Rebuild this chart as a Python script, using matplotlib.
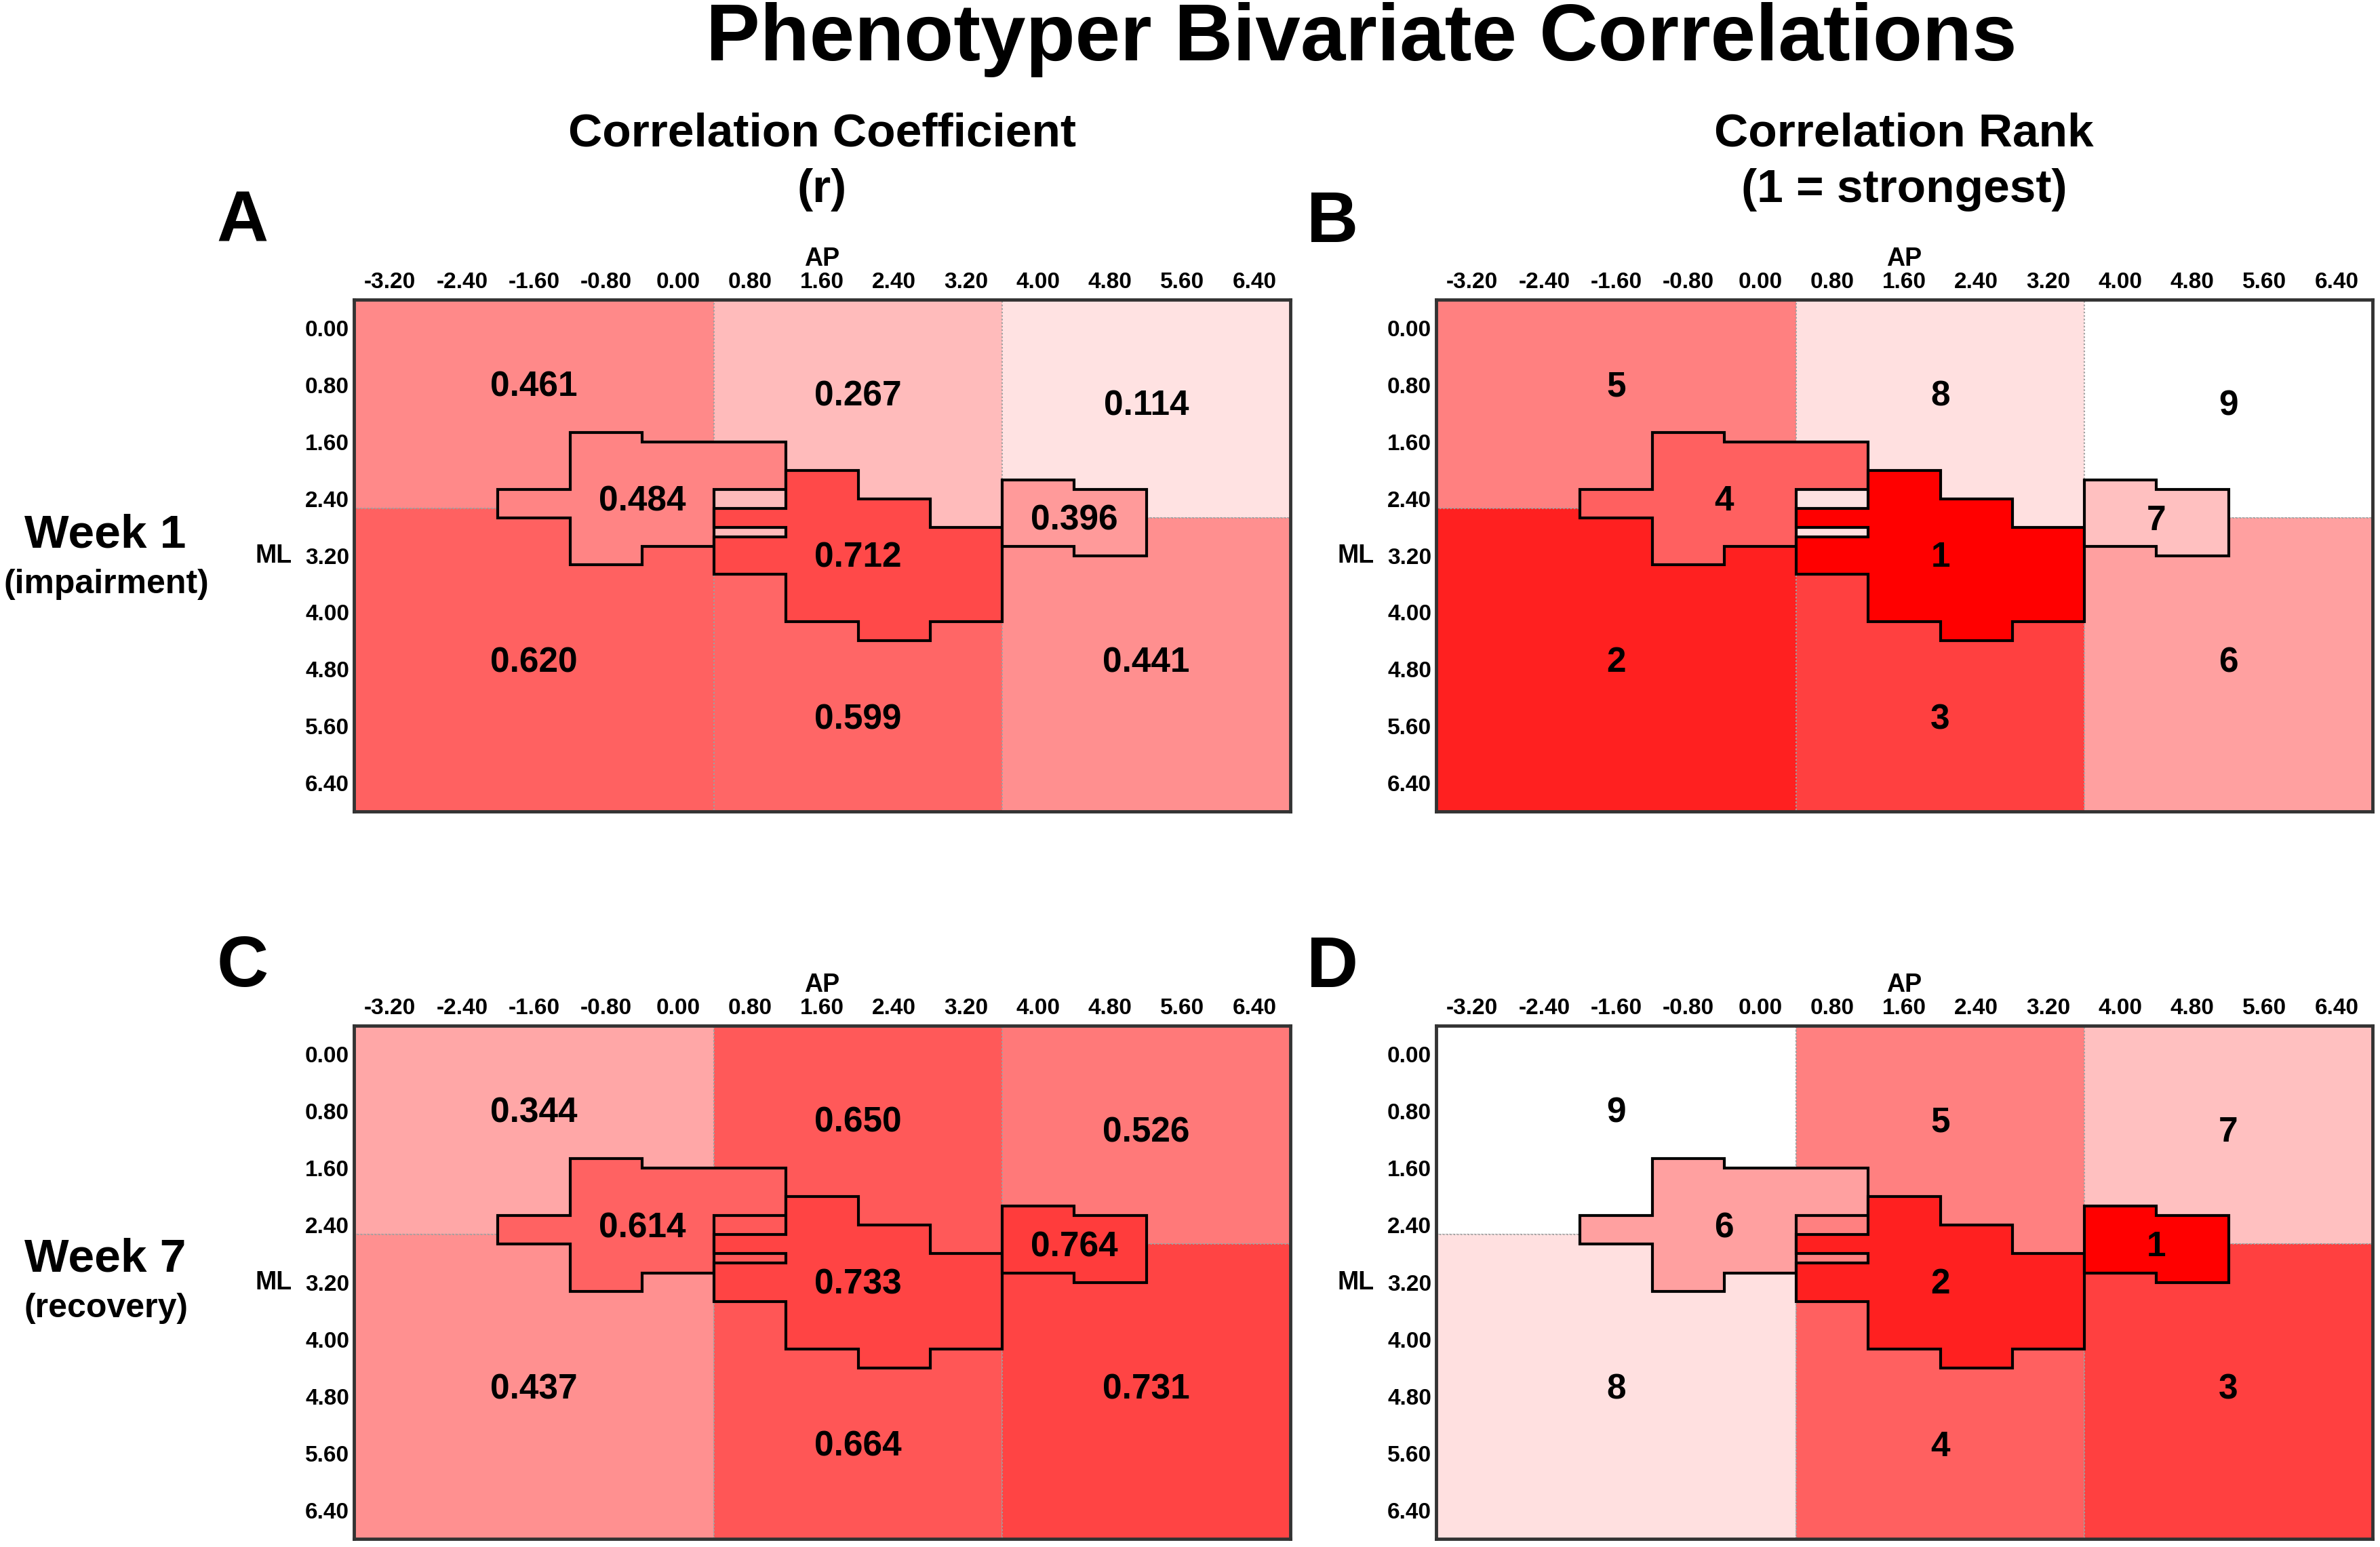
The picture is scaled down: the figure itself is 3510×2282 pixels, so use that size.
import numpy as np
import matplotlib.pyplot as plt
import matplotlib.transforms as mtransforms
from matplotlib.patches import Polygon
from matplotlib.colors import LinearSegmentedColormap, Normalize

# tick positions (mm)
ap_ticks = [-3.2, -2.4, -1.6, -0.8, 0.0, 0.8, 1.6, 2.4, 3.2, 4.0, 4.8, 5.6, 6.4]
ml_ticks = [0.0, 0.8, 1.6, 2.4, 3.2, 4.0, 4.8, 5.6, 6.4]

# regions as (AP, ML) outlines: 6 background blocks, then the 3 lesion shapes
top_left = [(-3.6, -0.4), (0.4, -0.4), (0.4, 2.533), (-3.6, 2.533)]
top_mid = [(0.4, -0.4), (3.6, -0.4), (3.6, 3.2), (0.4, 3.2)]
top_right = [(3.6, -0.4), (6.8, -0.4), (6.8, 2.667), (3.6, 2.667)]
bot_left = [(-3.6, 2.533), (0.4, 2.533), (0.4, 6.8), (-3.6, 6.8)]
bot_mid = [(0.4, 3.2), (3.6, 3.2), (3.6, 6.8), (0.4, 6.8)]
bot_right = [(3.6, 2.667), (6.8, 2.667), (6.8, 6.8), (3.6, 6.8)]
shape_left = [(-1.2, 1.467), (-0.4, 1.467), (-0.4, 1.6), (1.2, 1.6), (1.2, 2.267),
              (0.4, 2.267), (0.4, 3.067), (-0.4, 3.067), (-0.4, 3.333), (-1.2, 3.333),
              (-1.2, 2.667), (-2.0, 2.667), (-2.0, 2.267), (-1.2, 2.267)]
shape_mid = [(1.2, 2.0), (2.0, 2.0), (2.0, 2.4), (2.8, 2.4), (2.8, 2.8), (3.6, 2.8),
             (3.6, 4.133), (2.8, 4.133), (2.8, 4.4), (2.0, 4.4), (2.0, 4.133),
             (1.2, 4.133), (1.2, 3.467), (0.4, 3.467), (0.4, 2.933), (1.2, 2.933),
             (1.2, 2.8), (0.4, 2.8), (0.4, 2.533), (1.2, 2.533)]
shape_right = [(3.6, 2.133), (4.4, 2.133), (4.4, 2.267), (5.2, 2.267), (5.2, 3.2),
               (4.4, 3.2), (4.4, 3.067), (3.6, 3.067)]
regions = [top_left, top_mid, top_right, bot_left, bot_mid, bot_right,
           shape_left, shape_mid, shape_right]

week1_r = [0.461, 0.267, 0.114, 0.620, 0.599, 0.441, 0.484, 0.712, 0.396]
week1_rank = [5, 8, 9, 2, 3, 6, 4, 1, 7]
week7_r = [0.344, 0.650, 0.526, 0.437, 0.664, 0.731, 0.614, 0.733, 0.764]
week7_rank = [9, 5, 7, 8, 4, 3, 6, 2, 1]

label_xy = [(-1.6, 0.83), (2.0, 0.96), (5.2, 1.1), (-1.6, 4.71), (2.0, 5.51),
            (5.2, 4.71), (-0.4, 2.44), (2.0, 3.23), (4.4, 2.71)]

W, H = 3510, 2282
arial = ['Liberation Sans', 'DejaVu Sans']

cmap = LinearSegmentedColormap.from_list('wr', ['white', 'red'])
r_norm = Normalize(0, 1)
rank_norm = Normalize(1, 9)

fig = plt.figure(figsize=(W / 100, H / 100), dpi=100)


def px_axes(x0, y0, x1, y1):
    return fig.add_axes([x0 / W, 1 - y1 / H, (x1 - x0) / W, (y1 - y0) / H])


def ftext(x, y, s, **kw):
    fig.text(x / W, 1 - y / H, s, ha='center', va='center', fontweight='bold', **kw)


def draw_panel(ax, values, cm, norm, fmt):
    for i, (verts, v) in enumerate(zip(regions, values)):
        bg = i < 6
        ax.add_patch(Polygon(verts, closed=True, facecolor=cm(norm(v)),
                             edgecolor='#a0a0a0' if bg else 'black',
                             lw=1.5 if bg else 3, ls=(0, (1, 1.5)) if bg else '-',
                             joinstyle='miter', zorder=1 if bg else 2))
        ax.text(label_xy[i][0], label_xy[i][1], fmt(v), ha='center', va='center',
                fontsize=37, fontweight='bold', family=arial, zorder=3)
    ax.set_xlim(-3.6, 6.8)
    ax.set_ylim(6.8, -0.4)
    ax.xaxis.tick_top()
    ax.xaxis.set_label_position('top')
    ax.set_xticks(ap_ticks, labels=['%.2f' % t for t in ap_ticks])
    ax.set_yticks(ml_ticks, labels=['%.2f' % t for t in ml_ticks])
    ax.tick_params(length=0, labelsize=24)
    ax.tick_params(axis='x', pad=7)
    ax.tick_params(axis='y', pad=5)
    for lab in ax.get_xticklabels() + ax.get_yticklabels():
        lab.set_fontweight('bold')
        lab.set_family(arial)
    ax.set_xlabel('AP', fontsize=27, fontweight='bold', family=arial, labelpad=7)
    trans = mtransforms.blended_transform_factory(ax.transAxes, ax.transData)
    ax.text(-0.086, 3.2, 'ML', transform=trans, ha='center', va='center',
            fontsize=27, fontweight='bold', family=arial)
    for sp in ax.spines.values():
        sp.set_linewidth(3.5)
        sp.set_color('#333333')
        sp.set_zorder(4)


axA = px_axes(522, 442, 1903, 1197)
axB = px_axes(2118, 442, 3499, 1197)
axC = px_axes(522, 1513, 1903, 2270)
axD = px_axes(2118, 1513, 3499, 2270)

draw_panel(axA, week1_r, cmap, r_norm, lambda v: '%.3f' % v)
draw_panel(axB, week1_rank, cmap.reversed(), rank_norm, lambda v: '%d' % v)
draw_panel(axC, week7_r, cmap, r_norm, lambda v: '%.3f' % v)
draw_panel(axD, week7_rank, cmap.reversed(), rank_norm, lambda v: '%d' % v)

ftext(2008, 58, 'Phenotyper Bivariate Correlations', fontsize=86, family=arial)
ftext(1212, 197, 'Correlation Coefficient', fontsize=50, family=arial)
ftext(1212, 280, '(r)', fontsize=50, family=arial)
ftext(2808, 197, 'Correlation Rank', fontsize=50, family=arial)
ftext(2808, 280, '(1 = strongest)', fontsize=50, family=arial)

for x, y, s in [(358, 329, 'A'), (1965, 329, 'B'), (358, 1428, 'C'), (1965, 1428, 'D')]:
    ftext(x, y, s, fontsize=76, family=arial)

ftext(155, 790, 'Week 1', fontsize=50, family=arial)
ftext(157, 862, '(impairment)', fontsize=36, family=arial)
ftext(155, 1858, 'Week 7', fontsize=50, family=arial)
ftext(157, 1930, '(recovery)', fontsize=36, family=arial)

fig.savefig('out.png', dpi=100)
